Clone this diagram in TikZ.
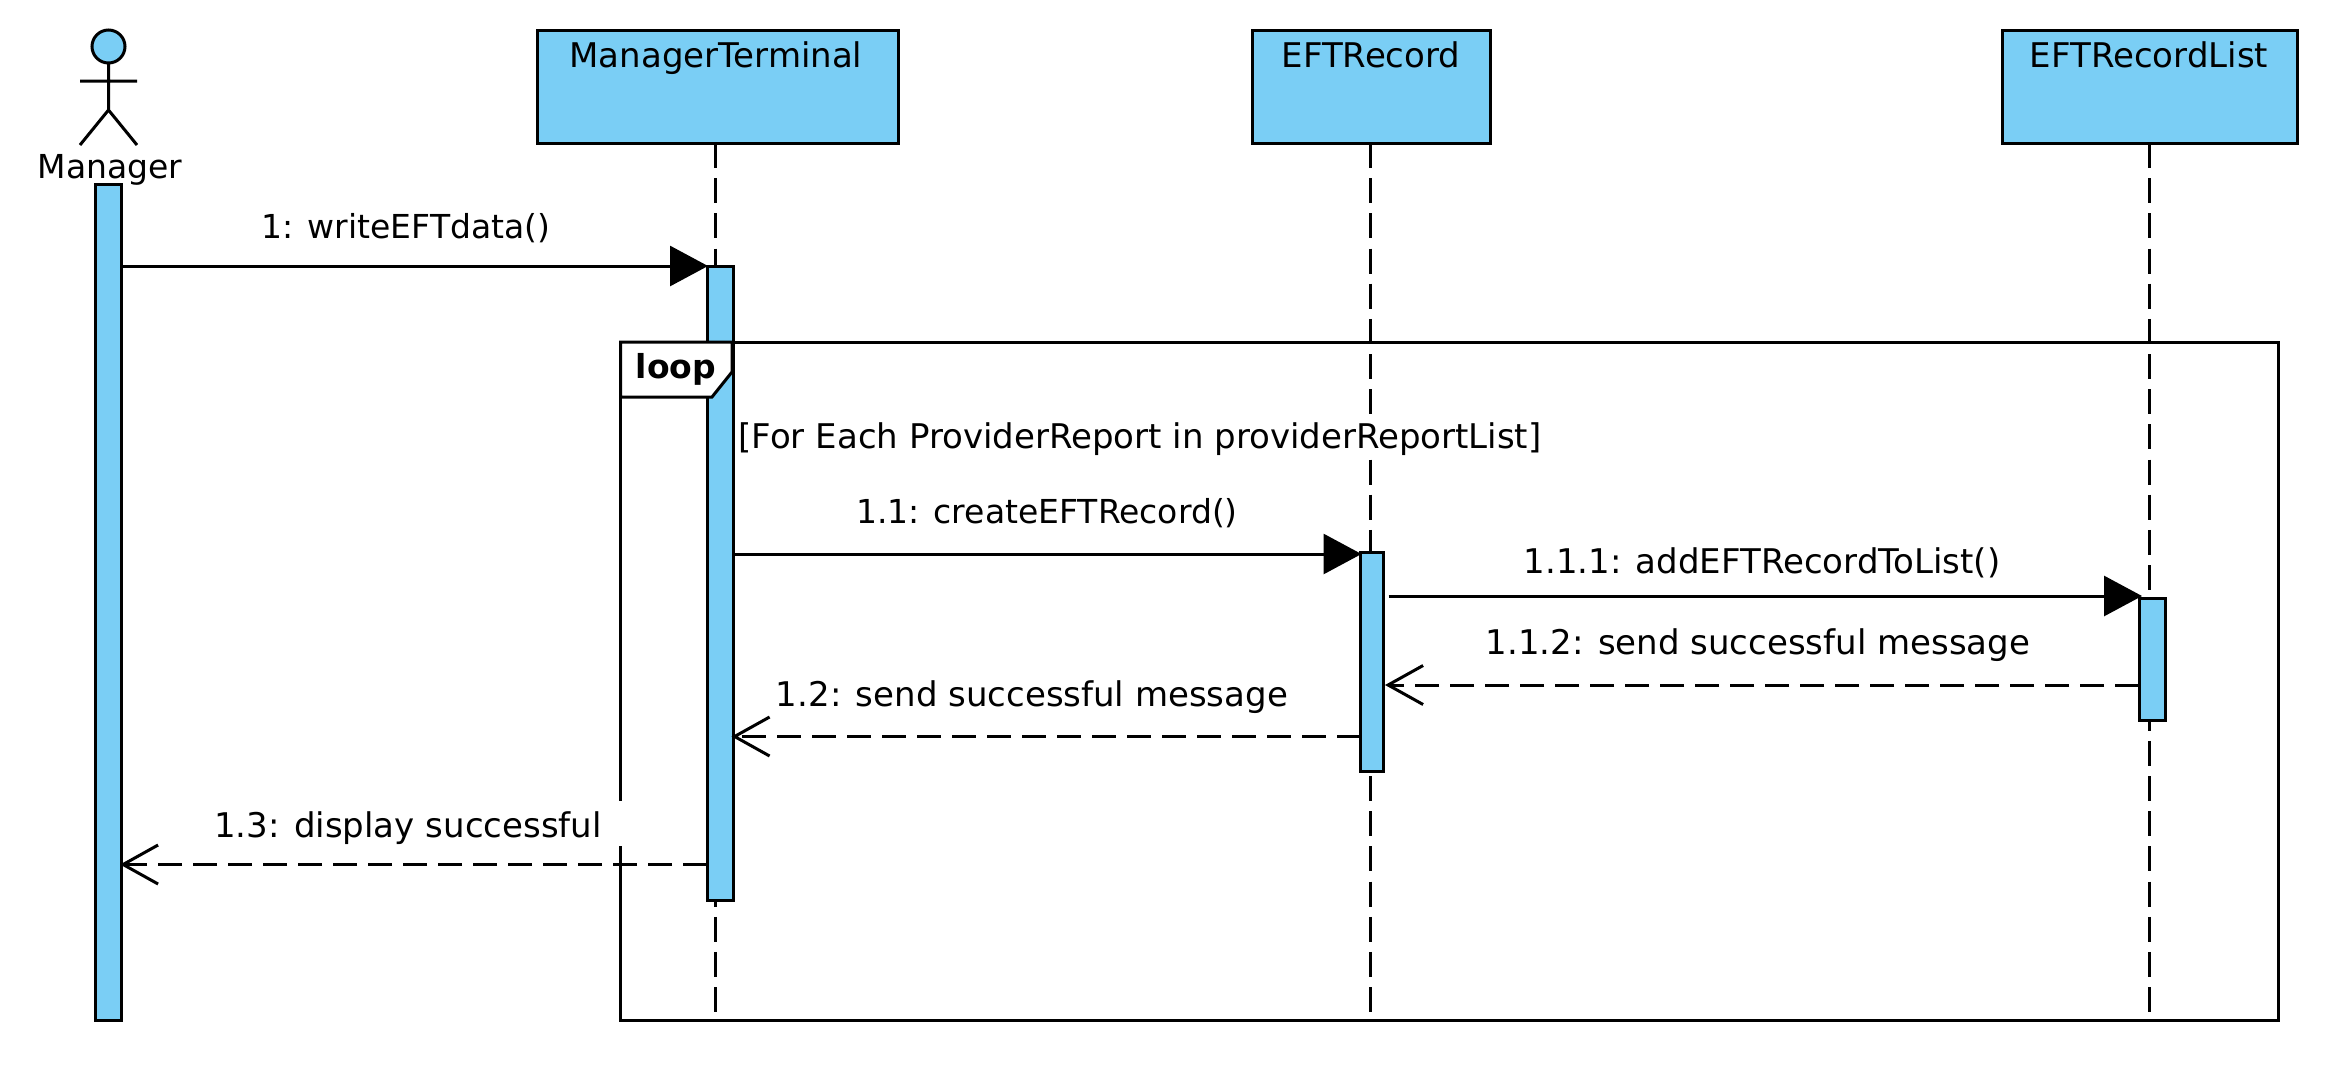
\documentclass[tikz,border=0pt]{standalone}
\usepackage{fontspec}
\setmainfont{DejaVu Sans}
\usetikzlibrary{arrows.meta,shapes.geometric}
\definecolor{umlblue}{HTML}{7ACEF5}
\tikzset{
  every node/.style={inner sep=0pt,outer sep=0pt},
  ln/.style={line width=3pt,draw=black},
  partbox/.style={ln,fill=umlblue,rectangle},
  actbar/.style={ln,fill=umlblue,rectangle,minimum width=26pt},
  lifeline/.style={line width=3pt,dash pattern=on 25pt off 10.17pt},
  txt/.style={anchor=base,font=\fontsize{33}{40}\selectfont},
  txtb/.style={anchor=base,font=\fontsize{34}{40}\selectfont},
  syncmsg/.style={line width=3pt,shorten >=-1pt,-{Triangle[length=38pt,width=40pt]}},
  retmsg/.style={line width=3pt,shorten >=-1.5pt,dash pattern=on 24pt off 11pt,-{Straight Barb[length=35pt,width=39pt,line width=3pt]}},
}
\begin{document}
\begin{tikzpicture}[x=1pt,y=-1pt]
\useasboundingbox (0,0) rectangle (2328,1066);
\fill[white] (0,0) rectangle (2328,1066);
% participants
\node[partbox,minimum width=361pt,minimum height=113pt] (mt) at (717.5,86.5) {};
\node[partbox,minimum width=238pt,minimum height=113pt] (er) at (1371,86.5) {};
\node[partbox,minimum width=295pt,minimum height=113pt] (el) at (2149.5,86.5) {};
\node[txtb] (mtL) at (716,67) {ManagerTerminal};
\node[txtb] (erL) at (1371,67) {EFTRecord};
\node[txtb] (elL) at (2149,67) {EFTRecordList};
% lifeline ends
\coordinate (mtEnd) at (715,1012.5);
\coordinate (erEnd) at (1370,1012.5);
\coordinate (elEnd) at (2149,1012.5);
\draw[lifeline] (mtEnd |- mt.south) -- (mtEnd);
\draw[lifeline] (erEnd |- er.south) -- (erEnd);
\draw[lifeline] (elEnd |- el.south) -- (elEnd);
% actor
\node[ln,fill=umlblue,ellipse,minimum width=33pt,minimum height=33pt] (head) at (108.5,46.5) {};
\coordinate (hip) at (108.5,110);
\coordinate (armL) at (80,81);
\coordinate (armR) at (137,81);
\coordinate (legL) at (80,145);
\coordinate (legR) at (137,145);
\draw[line width=3pt] (head.south) -- (hip) (armL) -- (armR) (legL) -- (hip) -- (legR);
\node[txt] (mgrL) at (110,178) {Manager};
% activations
\node[actbar,minimum height=836pt] (aMgr) at (108.5,602) {};
\node[actbar,minimum height=634pt] (aMt) at (720,583) {};
\node[actbar,minimum width=23pt,minimum height=219pt] (aEr) at (1372,661.5) {};
\node[actbar,minimum height=122pt] (aEl) at (2152,659) {};
% frame
\node[ln,rectangle,minimum width=1658pt,minimum height=678pt] (frame) at (1449.5,681) {};
\draw[ln,fill=white] (frame.north west) -- (732,342) -- (732,372) -- (712,397) -- (620.5,397) -- cycle;
\node[anchor=base,font=\fontsize{33}{40}\selectfont\bfseries] (loopL) at (676,378) {loop};
\node[txtb,fill=white,text height=34pt,text depth=2pt,inner xsep=3pt] (guard) at (1140,448) {[For Each ProviderReport in providerReportList]};
% messages
\draw[syncmsg] (aMgr.east |- 0,266) -- (aMt.west |- 0,266);
\node[txt] (m1) at (406,238) {1: writeEFTdata()};
\draw[syncmsg] (aMt.east |- 0,554) -- (aEr.west |- 0,554);
\node[txt] (m11) at (1047,523) {1.1: createEFTRecord()};
\draw[syncmsg] ([xshift=5pt]aEr.east |- 0,596) -- ([xshift=2pt]aEl.west |- 0,596);
\node[txtb] (m111) at (1762,573) {1.1.1: addEFTRecordToList()};
\draw[retmsg] (aEl.west |- 0,685) -- ([xshift=3pt]aEr.east |- 0,685);
\node[txtb] (m112) at (1758,654) {1.1.2: send successful message};
\draw[retmsg] (aEr.west |- 0,736.5) -- (aMt.east |- 0,736.5);
\node[txtb] (m12) at (1032,706) {1.2: send successful message};
\node[txtb,fill=white,text height=36pt,text depth=9pt,inner xsep=30pt] (m13) at (408,837) {1.3: display successful};
\draw[retmsg] (aMt.west |- 0,864.5) -- (aMgr.east |- 0,864.5);
\end{tikzpicture}
\end{document}
